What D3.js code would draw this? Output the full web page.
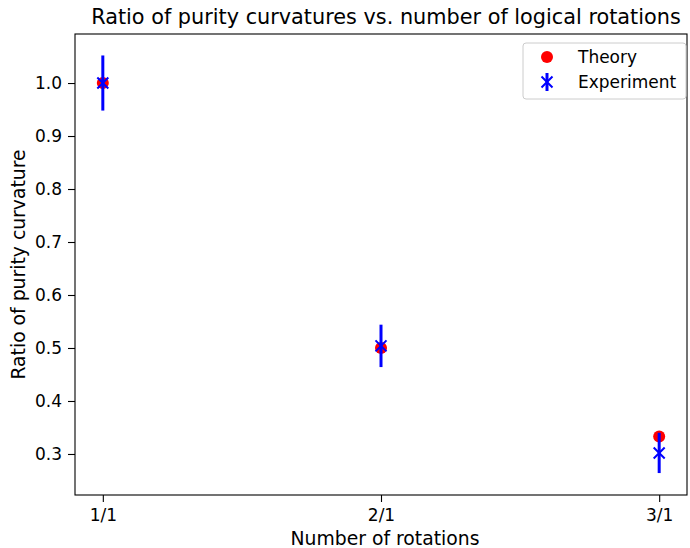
<!DOCTYPE html>
<html>
<head>
<meta charset="utf-8">
<script src="https://cdn.jsdelivr.net/npm/d3@7"></script>
<style>
body{margin:0;background:#fff;}
text{font-family:"DejaVu Sans",sans-serif;fill:#000;}
</style>
</head>
<body>
<div id="chart"></div>
<script>
var w = 690, h = 548;
var margin = {top:34, right:3, bottom:53, left:75};

// data
var categories = ["1/1","2/1","3/1"];
var theory = [1.0, 0.5, 0.333];
var experiment = [1.0, 0.504, 0.302];
var expErr = [0.052, 0.04, 0.038];
var yTicks = [0.3,0.4,0.5,0.6,0.7,0.8,0.9,1.0];

var svg = d3.select("#chart").append("svg")
  .attr("width", w).attr("height", h);

var xScale = d3.scaleLinear()
  .domain([0.9, 3.1])
  .range([margin.left, w - margin.right]);
var yScale = d3.scaleLinear()
  .domain([0.2226, 1.0925])
  .range([h - margin.bottom, margin.top]);

// axes
var xAxis = svg.append("g")
  .attr("transform","translate(0,"+(h-margin.bottom)+")")
  .call(d3.axisBottom(xScale).tickValues([1,2,3])
    .tickFormat(function(d,i){return categories[i];})
    .tickSize(7).tickPadding(7).tickSizeOuter(0));
var yAxis = svg.append("g")
  .attr("transform","translate("+margin.left+",0)")
  .call(d3.axisLeft(yScale).tickValues(yTicks)
    .tickFormat(d3.format(".1f")).tickSize(7).tickPadding(6).tickSizeOuter(0));
xAxis.attr("font-size",17).attr("font-family","DejaVu Sans");
yAxis.attr("font-size",17).attr("font-family","DejaVu Sans");
svg.selectAll(".tick text").style("font-size","17px");
svg.selectAll(".tick line").attr("stroke","#000").attr("stroke-width",1.1);
svg.selectAll(".domain").remove();

// frame
svg.append("rect")
  .attr("x", margin.left).attr("y", margin.top)
  .attr("width", w - margin.left - margin.right)
  .attr("height", h - margin.top - margin.bottom)
  .attr("fill","none").attr("stroke","#000").attr("stroke-width",1.1);

// theory points
svg.selectAll(".theory").data(theory).enter().append("circle")
  .attr("class","theory")
  .attr("cx", function(d,i){return xScale(i+1);})
  .attr("cy", function(d){return yScale(d);})
  .attr("r", 6)
  .attr("fill","#ff0000");

// experiment error bars
svg.selectAll(".err").data(experiment).enter().append("line")
  .attr("class","err")
  .attr("x1", function(d,i){return xScale(i+1);})
  .attr("x2", function(d,i){return xScale(i+1);})
  .attr("y1", function(d,i){return yScale(d+expErr[i]);})
  .attr("y2", function(d,i){return yScale(d-expErr[i]);})
  .attr("stroke","#0000ff").attr("stroke-width",3);

function xMark(g, cx, cy, s){
  g.append("path")
    .attr("d","M"+(cx-s)+","+(cy-s)+"L"+(cx+s)+","+(cy+s)+"M"+(cx-s)+","+(cy+s)+"L"+(cx+s)+","+(cy-s))
    .attr("stroke","#0000ff").attr("stroke-width",2).attr("fill","none");
}
experiment.forEach(function(d,i){ xMark(svg, xScale(i+1), yScale(d), 5.5); });

// title and labels
svg.append("text")
  .attr("x",386).attr("y",24)
  .attr("text-anchor","middle").style("font-size","20.8px")
  .text("Ratio of purity curvatures vs. number of logical rotations");
svg.append("text")
  .attr("x",385).attr("y",545)
  .attr("text-anchor","middle").style("font-size","18.8px")
  .text("Number of rotations");
svg.append("text")
  .attr("transform","translate(25,"+((margin.top + h - margin.bottom)/2)+") rotate(-90)")
  .attr("text-anchor","middle").style("font-size","18.8px")
  .text("Ratio of purity curvature");

// legend
var lg = svg.append("g");
lg.append("rect")
  .attr("x",523).attr("y",43).attr("width",163).attr("height",56)
  .attr("rx",3).attr("fill","#fff").attr("fill-opacity",0.8)
  .attr("stroke","#ccc").attr("stroke-width",1);
lg.append("circle").attr("cx",547).attr("cy",57).attr("r",6).attr("fill","#ff0000");
lg.append("line").attr("x1",547).attr("x2",547).attr("y1",73).attr("y2",91)
  .attr("stroke","#0000ff").attr("stroke-width",3);
xMark(lg, 547, 82, 5.5);
lg.append("text").attr("x",578).attr("y",63).style("font-size","17px").text("Theory");
lg.append("text").attr("x",578).attr("y",88).style("font-size","17px").text("Experiment");
</script>
</body>
</html>
